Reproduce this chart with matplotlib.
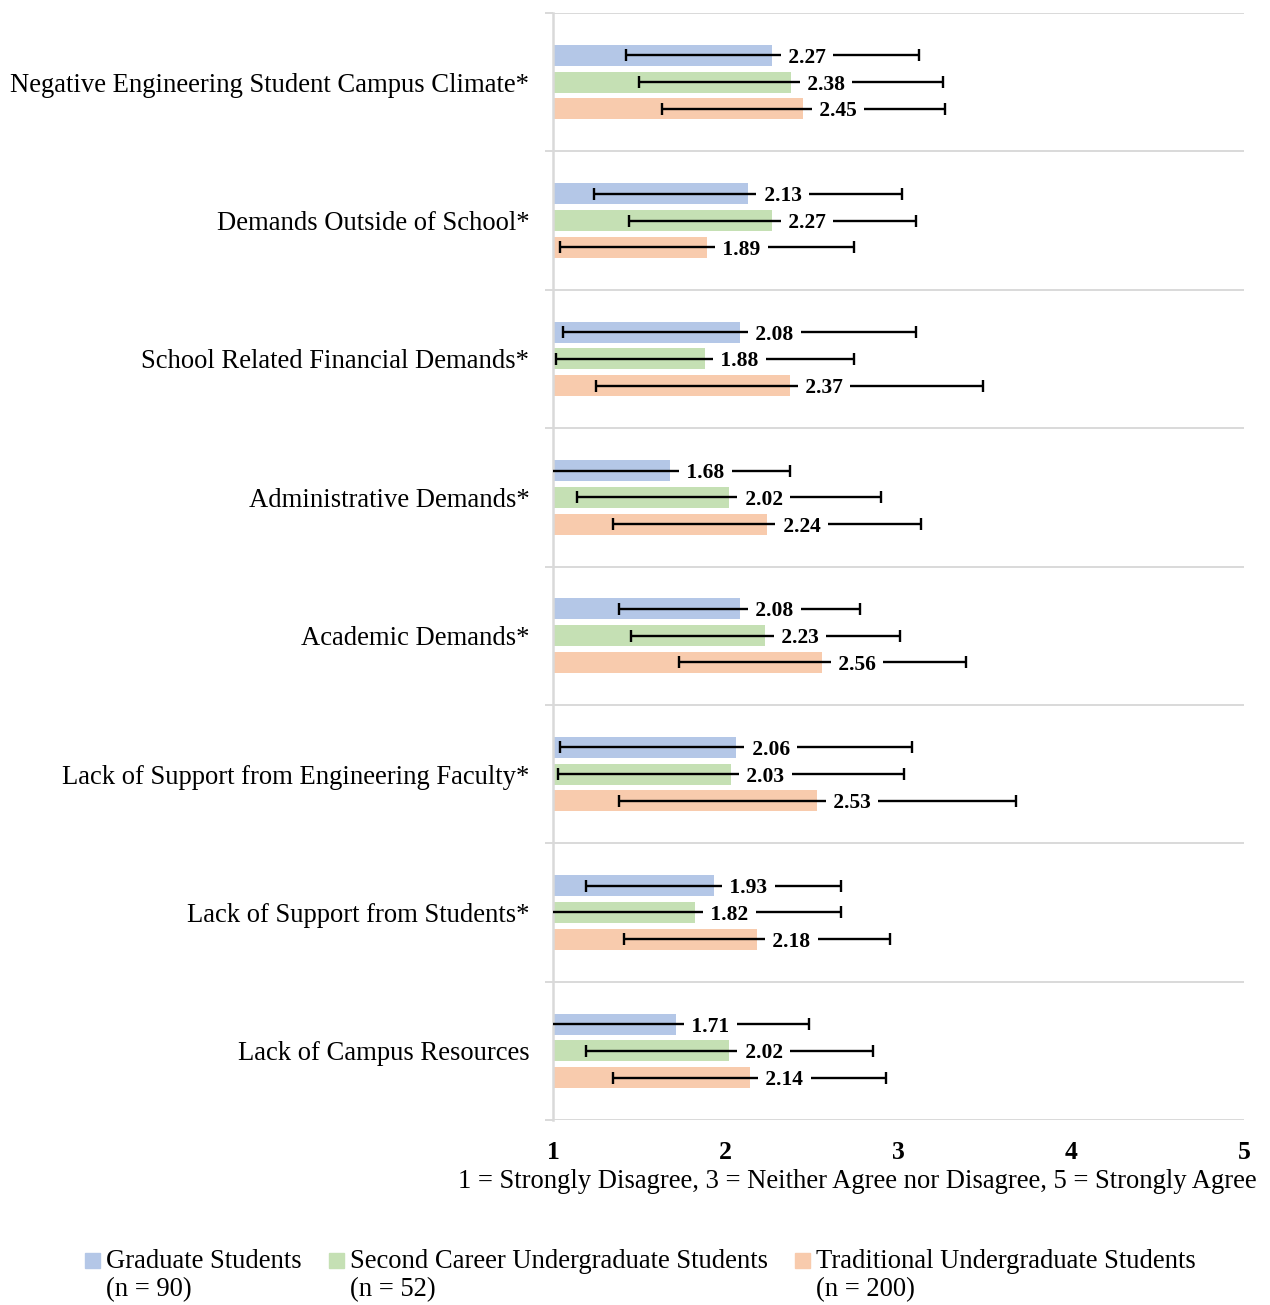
import numpy as np
import matplotlib.pyplot as plt
from matplotlib.patches import Rectangle

plt.rcParams['font.family'] = ['Liberation Serif', 'DejaVu Serif']

categories = [
    'Negative Engineering Student Campus Climate*',
    'Demands Outside of School*',
    'School Related Financial Demands*',
    'Administrative Demands*',
    'Academic Demands*',
    'Lack of Support from Engineering Faculty*',
    'Lack of Support from Students*',
    'Lack of Campus Resources',
]
series_names = ['Graduate Students', 'Second Career Undergraduate Students',
                'Traditional Undergraduate Students']
series_n = ['(n = 90)', '(n = 52)', '(n = 200)']

grad = [2.27, 2.13, 2.08, 1.68, 2.08, 2.06, 1.93, 1.71]
second = [2.38, 2.27, 1.88, 2.02, 2.23, 2.03, 1.82, 2.02]
trad = [2.45, 1.89, 2.37, 2.24, 2.56, 2.53, 2.18, 2.14]
grad_sd = [0.85, 0.89, 1.02, 0.69, 0.70, 1.02, 0.74, 0.77]
second_sd = [0.88, 0.83, 0.86, 0.88, 0.78, 1.00, 0.85, 0.83]
trad_sd = [0.82, 0.85, 1.12, 0.89, 0.83, 1.15, 0.77, 0.79]

colors = ['#B4C7E7', '#C5E0B4', '#F8CBAD']
grid_gray = '#D9D9D9'
fs = 19.2

fig = plt.figure(figsize=(12.7, 13.05), dpi=100)
ax = fig.add_axes([553 / 1270, 1 - 1120 / 1305, (1244 - 553) / 1270, (1120 - 13) / 1305])

y = np.arange(len(categories))
offsets = [-0.193, 0.0, 0.193]
bar_h = 0.152

for vals, sds, off, col in zip([grad, second, trad], [grad_sd, second_sd, trad_sd], offsets, colors):
    pos = y + off
    widths = np.array(vals) - 1
    ax.barh(pos, widths, left=1, height=bar_h, color=col, zorder=2)
    ax.errorbar(vals, pos, xerr=sds, fmt='none', ecolor='black', elinewidth=1.7,
                capsize=4.5, capthick=1.7, zorder=3)
    # value labels sit on a white box that hides the error bar behind them;
    # the box is kept short so it does not eat into the neighbouring bars
    for v, p in zip(vals, pos):
        ax.annotate(f' {v:.2f} ', xy=(v, p), xytext=(7.5, 0), textcoords='offset points',
                    ha='left', va='center_baseline', fontsize=15.5, fontweight='bold', zorder=4,
                    bbox=dict(boxstyle='square,pad=0.1', fc='white', ec='none'))

ax.set_xlim(1, 5)
ax.set_ylim(len(categories) - 0.5, -0.5)
ax.set_xticks([1, 2, 3, 4, 5])
ax.set_xticklabels(['1', '2', '3', '4', '5'], fontsize=18.5, fontweight='bold')
ax.tick_params(axis='x', length=0, pad=15)

ax.set_yticks(y)
ax.set_yticklabels(categories, fontsize=fs)
ax.tick_params(axis='y', which='major', length=0, pad=17)
ax.set_yticks(np.arange(len(categories) + 1) - 0.5, minor=True)
ax.tick_params(axis='y', which='minor', length=6, width=1.4, color=grid_gray)
ax.grid(axis='y', which='minor', color=grid_gray, linewidth=1.4, zorder=0)

for side in ['top', 'right', 'bottom']:
    ax.spines[side].set_visible(False)
ax.spines['left'].set_color(grid_gray)
ax.spines['left'].set_linewidth(1.8)

fig.text(1257 / 1270, 1 - 1181 / 1305,
         '1 = Strongly Disagree, 3 = Neither Agree nor Disagree, 5 = Strongly Agree',
         ha='right', va='center', fontsize=fs)

# legend drawn by hand so the swatch sits beside the first line of each label
leg_x = [85, 329, 795]
for name, n, col, lx in zip(series_names, series_n, colors, leg_x):
    fig.patches.append(Rectangle((lx / 1270, 1 - 1268 / 1305), 15 / 1270, 15 / 1305,
                                 transform=fig.transFigure, color=col))
    fig.text((lx + 21) / 1270, 1 - 1261 / 1305, name, ha='left', va='center', fontsize=fs)
    fig.text((lx + 21) / 1270, 1 - 1290 / 1305, n, ha='left', va='center', fontsize=fs)

fig.savefig('out.png', dpi=100)
